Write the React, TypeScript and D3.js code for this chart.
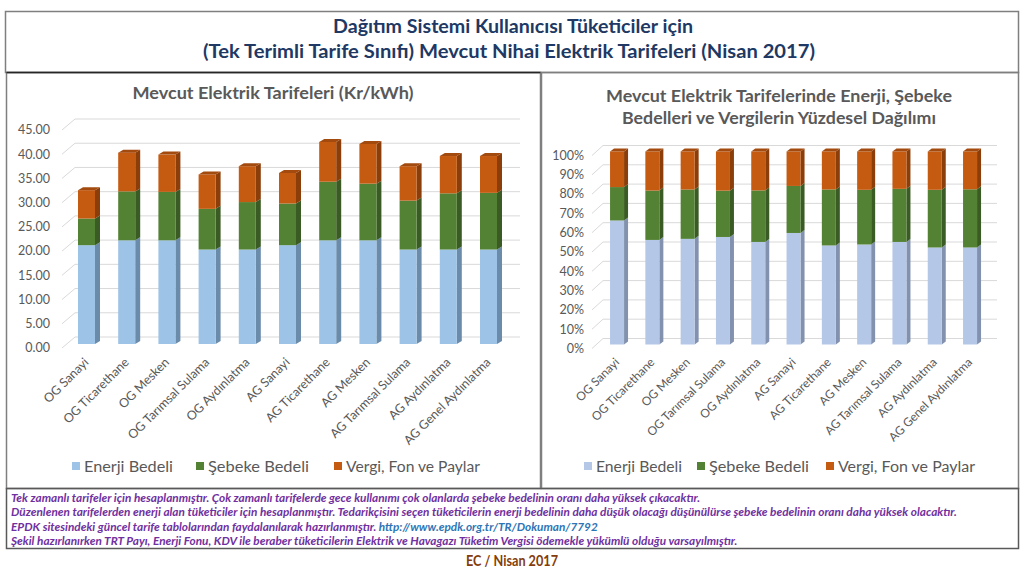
import React from "react";
import * as d3 from "d3";

const categories = [
  "OG Sanayi",
  "OG Ticarethane",
  "OG Mesken",
  "OG Tarımsal Sulama",
  "OG Aydınlatma",
  "AG Sanayi",
  "AG Ticarethane",
  "AG Mesken",
  "AG Tarımsal Sulama",
  "AG Aydınlatma",
  "AG Genel Aydınlatma",
];
const enerjiBedeli = [20.4, 21.4, 21.4, 19.5, 19.5, 20.4, 21.4, 21.4, 19.5, 19.5, 19.5];
const sebekeBedeli = [5.5, 10.1, 10.0, 8.4, 9.8, 8.6, 12.1, 11.7, 10.1, 11.6, 11.7];
const vergiFonPaylar = [5.85, 8.0, 7.7, 7.1, 7.4, 6.3, 8.2, 8.2, 7.1, 7.7, 7.6];
const seriesNames = ["Enerji Bedeli", "Şebeke Bedeli", "Vergi, Fon ve Paylar"];
const leftTicks = [0, 5, 10, 15, 20, 25, 30, 35, 40, 45];
const rightTicks = [0, 0.1, 0.2, 0.3, 0.4, 0.5, 0.6, 0.7, 0.8, 0.9, 1];

const titleLines = [
  "Dağıtım Sistemi Kullanıcısı Tüketiciler için",
  "(Tek Terimli Tarife Sınıfı) Mevcut Nihai Elektrik Tarifeleri (Nisan 2017)",
];
const leftTitle = "Mevcut Elektrik Tarifeleri  (Kr/kWh)";
const rightTitle = [
  "Mevcut Elektrik Tarifelerinde Enerji, Şebeke",
  "Bedelleri ve Vergilerin Yüzdesel Dağılımı",
];
const notes = [
  "Tek zamanlı tarifeler için hesaplanmıştır. Çok zamanlı tarifelerde gece kullanımı çok olanlarda şebeke bedelinin oranı daha yüksek çıkacaktır.",
  "Düzenlenen tarifelerden enerji alan tüketiciler için hesaplanmıştır. Tedarikçisini seçen tüketicilerin enerji bedelinin daha düşük olacağı düşünülürse şebeke bedelinin oranı daha yüksek olacaktır.",
  "EPDK sitesindeki güncel tarife tablolarından faydalanılarak hazırlanmıştır. ",
  "Şekil hazırlanırken TRT Payı, Enerji Fonu, KDV ile beraber tüketicilerin Elektrik ve Havagazı Tüketim Vergisi ödemekle yükümlü olduğu varsayılmıştır.",
];
const noteUrl = "http://www.epdk.org.tr/TR/Dokuman/7792";
const footer = "EC / Nisan 2017";

const FONT = "Lato, 'Open Sans', sans-serif";
const GRAY = "#595959";

const keys = ["e", "s", "v"];
const rows = categories.map((c, i) => ({
  cat: c,
  e: enerjiBedeli[i],
  s: sebekeBedeli[i],
  v: vergiFonPaylar[i],
}));

type Palette = { front: string; side: string; top: string }[];

const leftPalette: Palette = [
  { front: "#9DC3E6", side: "#6B8BAA", top: "#7FA3C6" },
  { front: "#548235", side: "#3A5C24", top: "#456E2B" },
  { front: "#C55A11", side: "#8C3E0A", top: "#A34A0E" },
];
const rightPalette: Palette = [
  { front: "#B4C7E7", side: "#8291AD", top: "#9AAACB" },
  { front: "#548235", side: "#3A5C24", top: "#456E2B" },
  { front: "#C55A11", side: "#8C3E0A", top: "#A34A0E" },
];

type ChartProps = {
  stacked: d3.Series<any, string>[];
  yBack: d3.ScaleLinear<number, number>;
  ticks: number[];
  tickFmt: (v: number) => string;
  xRange: [number, number];
  barW: number;
  sideDx: number;
  sideDy: number;
  frontOff: number;
  gx0: number;
  gx1: number;
  floorDx: number;
  floorDy: number;
  labelX: number;
  palette: Palette;
  labelSize: number;
  legendY: number;
  legendX: number[];
  legendW: number[];
};

function Chart3D(p: ChartProps) {
  const x = d3.scalePoint<string>().domain(categories).range(p.xRange).padding(0.5);
  const yF = (v: number) => p.yBack(v) + p.frontOff;
  const nSeries = p.stacked.length;
  return (
    <g>
      {p.ticks.map((t) => {
        const yb = p.yBack(t);
        return (
          <g key={"g" + t}>
            <line x1={p.gx0} x2={p.gx1} y1={yb} y2={yb} stroke="#D9D9D9" strokeWidth={1} />
            <line
              x1={p.gx0 - p.floorDx}
              y1={yb + p.floorDy}
              x2={p.gx0}
              y2={yb}
              stroke="#D9D9D9"
              strokeWidth={1}
            />
            <text
              x={p.labelX}
              y={yb + p.floorDy}
              dy="0.35em"
              textAnchor="end"
              fontFamily={FONT}
              fontSize={12.5}
              fill={GRAY}
            >
              {p.tickFmt(t)}
            </text>
          </g>
        );
      })}
      {categories.map((c, i) => {
        const cx = x(c) as number;
        const x0 = cx - p.barW / 2;
        const x1 = cx + p.barW / 2;
        return (
          <g key={"b" + c}>
            {p.stacked.map((s, si) => {
              const d = s[i];
              const yt = yF(d[1]);
              const yb = yF(d[0]);
              const col = p.palette[si];
              const isTop = si === nSeries - 1;
              return (
                <g key={si}>
                  <polygon
                    points={`${x1},${yt} ${x1 + p.sideDx},${yt - p.sideDy} ${x1 + p.sideDx},${yb - p.sideDy} ${x1},${yb}`}
                    fill={col.side}
                  />
                  <rect x={x0} y={yt} width={p.barW} height={yb - yt} fill={col.front} />
                  {isTop && (
                    <polygon
                      points={`${x0},${yt} ${x0 + p.sideDx},${yt - p.sideDy} ${x1 + p.sideDx},${yt - p.sideDy} ${x1},${yt}`}
                      fill={col.top}
                    />
                  )}
                </g>
              );
            })}
            <text
              transform={`translate(${cx + 3},${363}) rotate(-45)`}
              textAnchor="end"
              fontFamily={FONT}
              fontSize={p.labelSize}
              fill={GRAY}
            >
              {c}
            </text>
          </g>
        );
      })}
      {seriesNames.map((n, i) => (
        <g key={"l" + n}>
          <rect x={p.legendX[i]} y={p.legendY - 5} width={8} height={8} fill={p.palette[i].front} />
          <text
            x={p.legendX[i] + 12}
            y={p.legendY}
            dy="0.35em"
            fontFamily={FONT}
            fontSize={15.5}
            fill={GRAY}
            textLength={p.legendW[i]}
            lengthAdjust="spacingAndGlyphs"
          >
            {n}
          </text>
        </g>
      ))}
    </g>
  );
}

export default function App() {
  const stackAbs = d3.stack<any>().keys(keys)(rows);
  const stackPct = d3.stack<any>().keys(keys).offset(d3.stackOffsetExpand)(rows);

  const yLeft = d3.scaleLinear().domain([0, 45]).range([337, 119]);
  const yRight = d3.scaleLinear().domain([0, 1]).range([338.5, 145.5]);

  return (
    <div style={{ position: "absolute", left: 0, top: 0 }}>
      <svg width={1024} height={576} style={{ display: "block", background: "#fff" }}>
        <rect x={0} y={0} width={1024} height={576} fill="#fff" />
        {/* frames */}
        <rect x={5.5} y={11.5} width={1013} height={61} fill="none" stroke="#7F7F7F" strokeWidth={1.5} />
        <rect x={6.5} y={72.5} width={534} height={416} fill="none" stroke="#7F7F7F" strokeWidth={1.5} />
        <line x1={6.5} x2={540.5} y1={72.5} y2={72.5} stroke="#262626" strokeWidth={1.5} />
        <rect x={541.5} y={72.5} width={477} height={416} fill="none" stroke="#7F7F7F" strokeWidth={1.5} />
        <rect x={6.5} y={488.5} width={1012} height={60} fill="none" stroke="#595959" strokeWidth={1.5} />

        {/* main title */}
        <text x={513} y={27} dy="0.35em" textAnchor="middle" fontFamily={FONT} fontWeight="bold" fontSize={18}
          fill="#203864" textLength={360} lengthAdjust="spacingAndGlyphs">
          {titleLines[0]}
        </text>
        <text x={509} y={52} dy="0.35em" textAnchor="middle" fontFamily={FONT} fontWeight="bold" fontSize={18}
          fill="#203864" textLength={612} lengthAdjust="spacingAndGlyphs">
          {titleLines[1]}
        </text>

        {/* chart titles */}
        <text x={273} y={93} dy="0.35em" textAnchor="middle" fontFamily={FONT} fontWeight="bold" fontSize={17}
          fill={GRAY} textLength={281} lengthAdjust="spacingAndGlyphs">
          {leftTitle}
        </text>
        <text x={779} y={96} dy="0.35em" textAnchor="middle" fontFamily={FONT} fontWeight="bold" fontSize={17}
          fill={GRAY} textLength={346} lengthAdjust="spacingAndGlyphs">
          {rightTitle[0]}
        </text>
        <text x={779} y={118} dy="0.35em" textAnchor="middle" fontFamily={FONT} fontWeight="bold" fontSize={17}
          fill={GRAY} textLength={314} lengthAdjust="spacingAndGlyphs">
          {rightTitle[1]}
        </text>

        <Chart3D
          stacked={stackAbs}
          yBack={yLeft}
          ticks={leftTicks}
          tickFmt={(v) => v.toFixed(2)}
          xRange={[66.4, 508.6]}
          barW={17}
          sideDx={5}
          sideDy={3}
          frontOff={7}
          gx0={75}
          gx1={520}
          floorDx={13}
          floorDy={11}
          labelX={50}
          palette={leftPalette}
          labelSize={12.5}
          legendY={467}
          legendX={[72, 196, 334]}
          legendW={[89, 101, 134]}
        />
        <Chart3D
          stacked={stackPct}
          yBack={yRight}
          ticks={rightTicks}
          tickFmt={d3.format(".0%")}
          xRange={[599.4, 987.7]}
          barW={14}
          sideDx={4}
          sideDy={3}
          frontOff={6}
          gx0={603}
          gx1={997}
          floorDx={11}
          floorDy={10}
          labelX={584}
          palette={rightPalette}
          labelSize={12}
          legendY={467}
          legendX={[584, 697, 826]}
          legendW={[86, 100, 137]}
        />

        {/* notes */}
        {notes.map((n, i) => (
          <text key={i} x={11} y={498 + i * 14.3} dy="0.35em" fontFamily={FONT} fontStyle="italic" fontWeight="bold"
            fontSize={11.8} fill="#7030A0">
            {n}
            {i === 2 && <tspan fill="#2E75B6">{noteUrl}</tspan>}
          </text>
        ))}

        <text x={512} y={561} dy="0.35em" textAnchor="middle" fontFamily={FONT} fontWeight="bold" fontSize={15}
          fill="#843C0C" textLength={92} lengthAdjust="spacingAndGlyphs">
          {footer}
        </text>
      </svg>
    </div>
  );
}
